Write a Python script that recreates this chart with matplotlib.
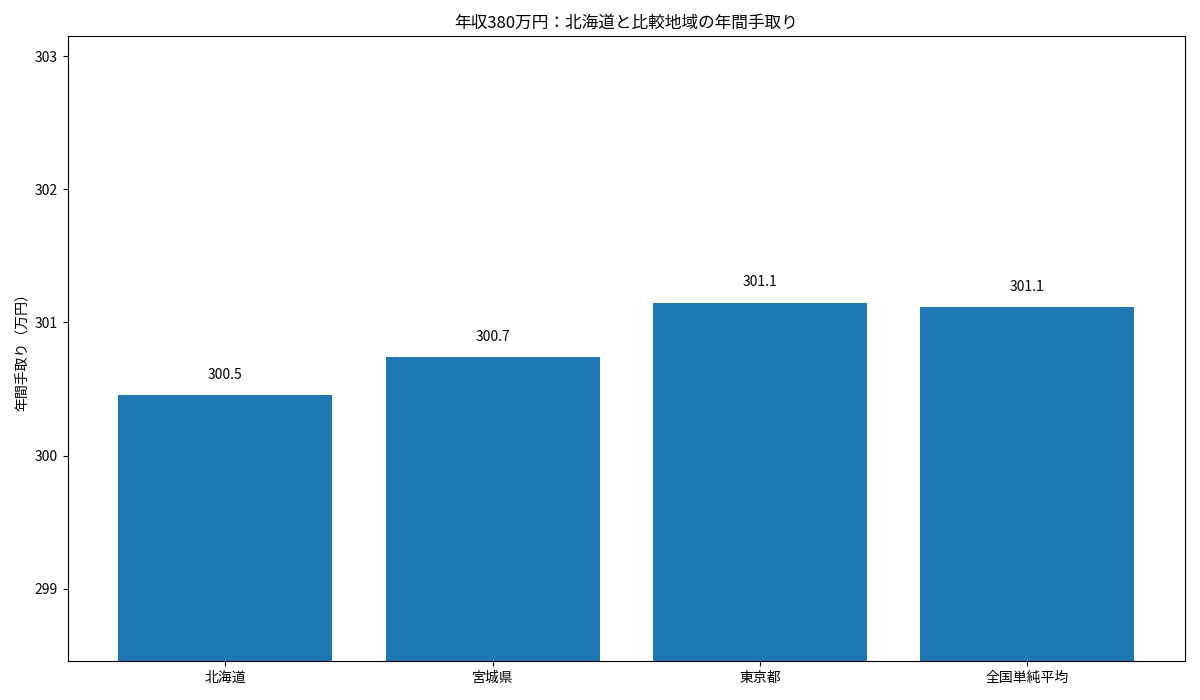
import matplotlib
matplotlib.use("Agg")
import matplotlib.pyplot as plt

plt.rcParams['font.family'] = ['Noto Sans CJK JP', 'DejaVu Sans']

regions = ["北海道", "宮城県", "東京都", "全国単純平均"]
takehome = [300.455, 300.74, 301.149, 301.115]

fig, ax = plt.subplots(figsize=(12, 7), dpi=100)
bars = ax.bar(regions, takehome, color="#1f77b4", width=0.8)
for x, v in zip(range(len(regions)), takehome):
    ax.text(x, v + 0.1, f"{v:.1f}", ha="center", va="bottom", fontsize=10)
ax.set_ylim(min(takehome) - 2, max(takehome) + 2)
ax.set_title("年収380万円：北海道と比較地域の年間手取り")
ax.set_ylabel("年間手取り（万円）")
fig.tight_layout()
fig.savefig("out.png")
